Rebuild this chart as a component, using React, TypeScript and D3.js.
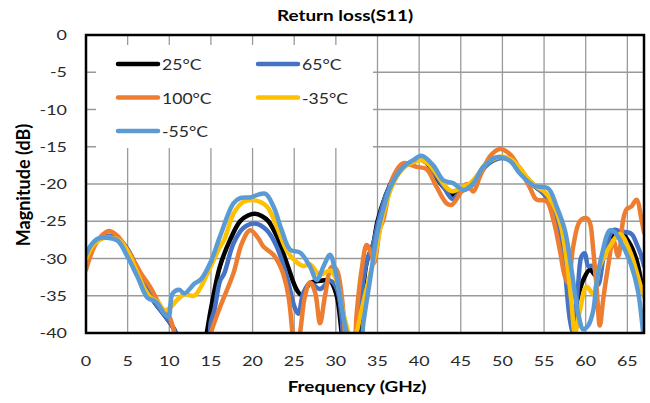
import * as d3 from "d3";
import React, { useEffect, useRef } from "react";

type Point = [number, number]; // [GHz, dB]

const xTicks = [0, 5, 10, 15, 20, 25, 30, 35, 40, 45, 50, 55, 60, 65];
const yTicks = [0, -5, -10, -15, -20, -25, -30, -35, -40];

const labels = ["25°C", "65°C", "100°C", "-35°C", "-55°C"];
const colors = ["#000000", "#4472C4", "#ED7D31", "#FFC000", "#5B9BD5"];

// values under -40 dB are cut off by the plot area, like the original
const temp25: Point[] = [
    [0, -30], [1, -28], [2, -27.2], [3, -27], [4, -27.5], [5, -28.8], [6, -31],
    [7, -33.5], [8, -35.5], [9, -37], [10, -38.5], [10.8, -40], [11.5, -44],
    [14, -44], [14.5, -40], [15.3, -35], [16.1, -31], [17.3, -27.5], [18.5, -25],
    [19.5, -24.2], [20.3, -24], [21.1, -24.3], [21.9, -25], [22.9, -27], [24.1, -30.6],
    [25.3, -34.2], [25.9, -34.9], [26.9, -33.3], [28.1, -33], [29.3, -33], [30.1, -35],
    [30.7, -40], [31.2, -44], [32.3, -44], [32.8, -40], [33.7, -30.5], [34.5, -28],
    [35, -25], [36, -21.5], [37, -19], [38, -17.5], [39, -17.3], [40, -16.6], [41, -17.3],
    [42, -19], [43, -20.5], [44, -21.5], [45, -20.8], [46, -20.3], [47, -19], [48, -17.5],
    [49, -16.7], [50, -16.4], [51, -16.8], [52, -17.8], [53, -19.3], [54, -20.4],
    [55, -21.2], [56, -22.5], [57, -26], [57.7, -31], [58.5, -37.8], [59.1, -35],
    [59.7, -32.9], [60.5, -31.5], [61.3, -32.4], [62.1, -29.5], [62.9, -27.5],
    [64.1, -26.4], [65.3, -28], [66.1, -30.2], [66.7, -33.3], [67, -35],
];

const temp65: Point[] = [
    [0, -30], [1, -28], [2, -27.2], [3, -27], [4, -27.5], [5, -28.8], [6, -31],
    [7, -33.5], [8, -35.5], [9, -37], [10, -38.5], [10.8, -40], [11.5, -44],
    [14.3, -44], [15, -38.5], [15.4, -37], [16.1, -33], [16.6, -32], [17.7, -28],
    [18.9, -25.9], [20.3, -25.3], [21.7, -26.2], [22.9, -28.4], [24.1, -32.4],
    [25.1, -36.7], [25.5, -37.4], [26.1, -34.6], [26.9, -33.3], [28.1, -34.1],
    [29.3, -33], [30.1, -34], [30.7, -38], [31.2, -44], [32, -44], [32.5, -39.6],
    [33.7, -30.5], [34.5, -28], [35, -25.5], [36, -21.5], [37, -19.2], [38, -17.7],
    [39, -17.2], [40, -16.6], [41, -17.2], [42, -18.8], [43, -20.5], [44, -22], [45, -21],
    [46, -20.5], [47, -19.2], [48, -17.6], [49, -16.8], [50, -16.5], [51, -16.8],
    [52, -17.8], [53, -19.3], [54, -20.4], [55, -21.4], [56, -23], [57, -27],
    [57.5, -31.5], [58.1, -38.2], [58.5, -40], [59.1, -33.3], [59.5, -29.7],
    [59.9, -29.3], [60.3, -31], [60.9, -31], [61.5, -33.5], [62.3, -29], [63.3, -26.2],
    [64.3, -26.4], [65.5, -26.7], [66.1, -28], [66.7, -29.7], [67, -31],
];

const temp100: Point[] = [
    [0, -31.5], [1, -28.4], [2, -26.8], [2.8, -26.3], [3.8, -27], [5, -28.9], [6, -30.8],
    [6.6, -32], [7.8, -34], [9, -36.5], [10, -37.8], [10.6, -40], [11.2, -44],
    [14.2, -44], [15, -40], [16.1, -36.5], [17.7, -32], [18.7, -28], [19.7, -26.2],
    [20.7, -27.3], [21.3, -28.4], [22.5, -29.5], [23.5, -31.5], [24.3, -35], [24.8, -40],
    [25.2, -43], [25.7, -40], [26.3, -35], [26.9, -33.2], [27.5, -34.5], [28.1, -38.7],
    [28.7, -35], [29.5, -31.1], [30.1, -31.5], [30.7, -35], [31.1, -40], [31.5, -44],
    [32.2, -42], [32.5, -37.4], [33.1, -31.5], [33.7, -28.2], [34.3, -29.5],
    [34.6, -30.6], [35.3, -26], [35.7, -24.8], [36.9, -19], [38.1, -17.2], [39.7, -17.7],
    [40.9, -18], [42.1, -20.4], [43.3, -22.6], [43.9, -22.8], [44.9, -21.3], [45.7, -20],
    [46.5, -21], [47.3, -19], [48.5, -16.3], [49.7, -15.3], [50.9, -16], [52.1, -18],
    [53.3, -20.5], [54.1, -22.1], [55.3, -22.3], [56.1, -24.7], [56.9, -28.9],
    [57.5, -32.4], [57.9, -33.3], [58.5, -28.4], [59.3, -25], [60.1, -24.6],
    [60.5, -25.2], [60.9, -28.8], [61.3, -33.8], [61.7, -39], [62.1, -35.5], [62.7, -31],
    [63.3, -27.5], [63.9, -29.7], [64.5, -24.8], [64.9, -23.4], [65.5, -23], [66.1, -22.1],
    [66.7, -24.8], [67, -26.5],
];

const tempMinus35: Point[] = [
    [0, -30], [1, -28], [2, -27.3], [3, -27.2], [4, -27.6], [5, -29], [6, -31.5],
    [7, -34], [7.8, -35.3], [8.6, -35.8], [9.4, -37], [10.2, -36.5], [11, -35.5],
    [11.8, -34.8], [13, -35], [13.8, -33.8], [15, -31], [16.1, -28.4], [16.6, -27.5],
    [17.7, -24], [18.9, -22.4], [20.3, -22.2], [21.7, -23], [22.9, -25.7], [24.1, -28.9],
    [25.3, -30.5], [26.1, -31], [26.9, -30.8], [28.1, -32.2], [29.3, -31.6], [30.1, -33],
    [30.9, -37.4], [31.5, -40], [32, -43], [32.5, -40], [33.7, -34], [34.7, -29.5],
    [35.5, -25], [36.5, -21], [37.5, -18.7], [38.5, -17.5], [39.5, -17], [40.3, -16.8],
    [41.3, -17.5], [42.3, -19], [43.3, -20.5], [44, -21], [45, -20.5], [46, -20],
    [47, -18.8], [48, -17.3], [49, -16.6], [50, -16.3], [51, -16.7], [52, -17.7],
    [53, -19.2], [54, -20.3], [55, -21], [56, -22.5], [57, -25.5], [57.8, -31],
    [58.3, -36], [58.7, -40], [59.3, -37], [60.1, -33.8], [60.9, -34.7], [61.7, -31],
    [62.9, -28.4], [64.1, -26.7], [65.3, -29], [66.5, -33.3], [67, -35],
];

const tempMinus55: Point[] = [
    [0, -29.5], [0.6, -28.2], [1.5, -27.3], [2.5, -27.2], [3.8, -27.6], [5, -29.8],
    [6.2, -32.5], [7.4, -35.3], [8.4, -35.8], [9.4, -37.4], [9.9, -37.8], [10.4, -34.7],
    [11.2, -34.2], [11.8, -34.7], [13, -33.4], [13.8, -32.8], [15, -30.4], [16.1, -27],
    [17.7, -22.6], [18.5, -21.9], [19.7, -21.8], [21.5, -21.3], [22.5, -23],
    [23.5, -26.2], [24.5, -28.8], [25.7, -29.2], [26.9, -31.1], [27.7, -32.9],
    [28.5, -31.1], [29.3, -29.5], [29.9, -31.5], [30.5, -35], [30.9, -37.8], [31.3, -40],
    [31.8, -43], [32.8, -43], [33.3, -38.7], [34.1, -32.9], [35, -26.5], [35.8, -23],
    [36.5, -20.5], [38.1, -17.7], [39.3, -16.8], [40.3, -16.2], [41.7, -17.5],
    [42.9, -19.5], [44.1, -19.9], [45.3, -20.8], [46.5, -19.9], [47.7, -17.7],
    [49.3, -16.4], [50.9, -16.9], [52.1, -18.6], [53.7, -20.2], [55.5, -20.6],
    [56.5, -23], [57.5, -26.2], [58.3, -31.5], [59.1, -37.4], [59.7, -39.5], [60.3, -39],
    [60.9, -37], [61.3, -33.3], [61.9, -29.7], [62.9, -26.2], [63.5, -26.5],
    [64.5, -28.4], [65.5, -31], [66.3, -34.5], [66.9, -40], [67, -41],
];

const seriesData = [temp25, temp65, temp100, tempMinus35, tempMinus55];

const WIDTH = 650;
const HEIGHT = 403;
const FONT = "Lato, 'Open Sans', sans-serif";

type Sel = d3.Selection<SVGGElement, unknown, null, undefined>;

// the source picture is a bit wider than tall, so the text is stretched sideways
function wideText(
    parent: Sel,
    x: number,
    y: number,
    label: string,
    size: number,
    anchor: string,
    stretch: number,
    bold = false
) {
    return parent
        .append("text")
        .attr("transform", `translate(${x},${y}) scale(${stretch},1)`)
        .attr("text-anchor", anchor)
        .attr("font-family", FONT)
        .attr("font-size", size)
        .attr("font-weight", bold ? "bold" : "normal")
        .attr("fill", bold ? "#000" : "#2a2a2a")
        .text(label);
}

export default function App() {
    const svgRef = useRef<SVGSVGElement>(null);

    useEffect(() => {
        if (!svgRef.current) return;
        const svg = d3.select(svgRef.current);
        svg.selectAll("*").remove();

        const left = 86, top = 35, right = 644, bottom = 333;

        const xScale = d3.scaleLinear().domain([0, 67]).range([left, right]);
        const yScale = d3.scaleLinear().domain([-40, 0]).range([bottom, top]);

        svg.append("rect").attr("width", WIDTH).attr("height", HEIGHT).attr("fill", "#fff");

        // gridlines
        const grid = svg.append("g").attr("stroke", "#9a9a9a").attr("stroke-width", 1.3);
        xTicks.forEach((t) => {
            grid.append("line")
                .attr("x1", xScale(t)).attr("x2", xScale(t))
                .attr("y1", top).attr("y2", bottom);
        });
        yTicks.forEach((t) => {
            grid.append("line")
                .attr("x1", left).attr("x2", right)
                .attr("y1", yScale(t)).attr("y2", yScale(t));
        });

        // legend box hides the grid behind it
        svg.append("rect")
            .attr("x", 96).attr("y", 45)
            .attr("width", 277).attr("height", 103)
            .attr("fill", "#fff");

        svg.append("clipPath").attr("id", "plot-clip")
            .append("rect")
            .attr("x", left).attr("y", top)
            .attr("width", right - left).attr("height", bottom - top);

        const lineGenerator = d3
            .line<Point>()
            .x((d) => xScale(d[0]))
            .y((d) => yScale(d[1]))
            .curve(d3.curveCatmullRom.alpha(0.5));

        const lines = svg.append("g").attr("clip-path", "url(#plot-clip)");
        seriesData.forEach((points, i) => {
            lines.append("path")
                .datum(points)
                .attr("fill", "none")
                .attr("stroke", colors[i])
                .attr("stroke-width", 4.5)
                .attr("stroke-linejoin", "round")
                .attr("stroke-linecap", "round")
                .attr("d", lineGenerator);
        });

        // plot border
        svg.append("rect")
            .attr("x", left).attr("y", top)
            .attr("width", right - left).attr("height", bottom - top)
            .attr("fill", "none")
            .attr("stroke", "#000")
            .attr("stroke-width", 2.5);

        const texts = svg.append("g") as unknown as Sel;

        // tick labels
        yTicks.forEach((t) => {
            wideText(texts, 67, yScale(t) + 5, String(t), 14, "end", 1.28);
        });
        xTicks.forEach((t) => {
            wideText(texts, xScale(t), 366, String(t), 14, "middle", 1.28);
        });

        // titles
        wideText(texts, 345, 21, "Return loss(S11)", 15, "middle", 1.26, true);
        wideText(texts, 357, 392, "Frequency (GHz)", 16, "middle", 1.18, true);

        texts.append("text")
            .attr("transform", "translate(30,185) rotate(-90)")
            .attr("text-anchor", "middle")
            .attr("font-family", FONT)
            .attr("font-weight", "bold")
            .attr("font-size", 18)
            .text("Magnitude (dB)");

        // legend, two columns
        labels.forEach((label, i) => {
            const lx = i % 2 === 0 ? 118 : 258;
            const ly = 64 + Math.floor(i / 2) * 33.5;
            texts.append("line")
                .attr("x1", lx).attr("x2", lx + 40)
                .attr("y1", ly).attr("y2", ly)
                .attr("stroke", colors[i])
                .attr("stroke-width", 4.5)
                .attr("stroke-linecap", "round");
            wideText(texts, lx + 44, ly + 6, label, 16, "start", 1.1);
        });
    }, []);

    return (
        <svg
            ref={svgRef}
            width={WIDTH}
            height={HEIGHT}
            style={{ position: "absolute", left: 0, top: 0, display: "block" }}
        />
    );
}
